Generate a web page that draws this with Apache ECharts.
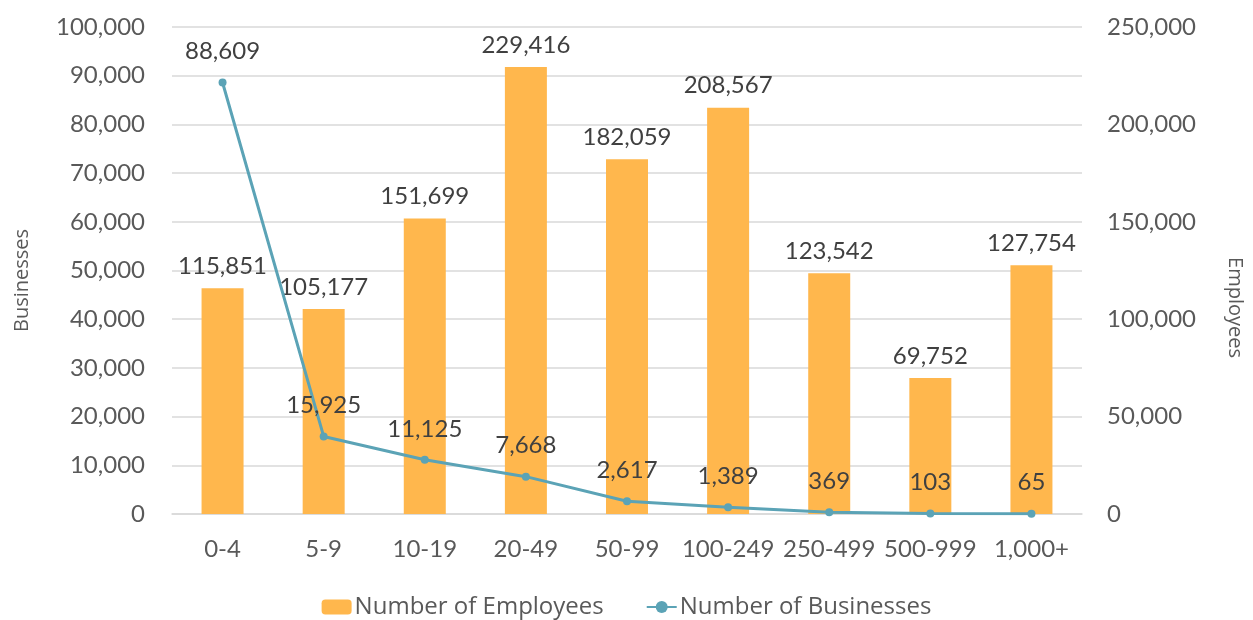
<!DOCTYPE html>
<html>
<head>
<meta charset="utf-8">
<script src="https://cdn.jsdelivr.net/npm/echarts@6/dist/echarts.min.js"></script>
<style>
  html, body { margin: 0; padding: 0; background: #fff; }
  #chart { width: 1253px; height: 620px; }
</style>
</head>
<body>
<div id="chart"></div>
<script>
const categories = ['0-4', '5-9', '10-19', '20-49', '50-99', '100-249', '250-499', '500-999', '1,000+'];
const employees = [115851, 105177, 151699, 229416, 182059, 208567, 123542, 69752, 127754];
const businesses = [88609, 15925, 11125, 7668, 2617, 1389, 369, 103, 65];

const FONT = 'Lato';
const fmt = v => v.toLocaleString('en-US');

const chart = echarts.init(document.getElementById('chart'));

const option = {
    animation: false,
    textStyle: { fontFamily: FONT },
    legend: {
        data: ['Number of Employees', 'Number of Businesses'],
        left: 'center',
        top: 590,
        itemWidth: 30,
        itemHeight: 15,
        itemGap: 42,
        textStyle: { fontFamily: 'Open Sans', fontSize: 24, color: '#595959', padding: [0, 0, 0, -2] }
    },
    grid: { left: 172, right: 171, top: 27, bottom: 106, containLabel: false, outerBoundsMode: 'none' },
    xAxis: {
        type: 'category',
        data: categories,
        axisLine: { lineStyle: { color: '#D9D9D9', width: 1.5 } },
        axisTick: { show: false },
        axisLabel: { color: '#595959', fontSize: 24, margin: 23, fontFamily: FONT, interval: 0 }
    },
    yAxis: [
        {
            type: 'value',
            min: 0, max: 100000, interval: 10000,
            name: 'Businesses',
            nameLocation: 'middle',
            nameGap: 140,
            // shift down a bit like the original
            nameTextStyle: { color: '#595959', fontSize: 20, fontFamily: 'Open Sans', padding: [0, 20, 0, 0] },
            axisLabel: { color: '#595959', fontSize: 24, margin: 27, formatter: fmt, fontFamily: FONT },
            axisLine: { show: false },
            axisTick: { show: false },
            splitLine: { lineStyle: { color: '#D9D9D9', width: 1.5 } }
        },
        {
            type: 'value',
            min: 0, max: 250000, interval: 50000,
            name: 'Employees',
            nameLocation: 'middle',
            nameGap: 143,
            nameRotate: -90,
            nameTextStyle: { color: '#595959', fontSize: 20, fontFamily: 'Open Sans', padding: [0, 0, 0, 74] },
            axisLabel: { color: '#595959', fontSize: 24, margin: 25, formatter: fmt, fontFamily: FONT },
            axisLine: { show: false },
            axisTick: { show: false },
            splitLine: { show: false }
        }
    ],
    series: [
        {
            name: 'Number of Employees',
            type: 'bar',
            yAxisIndex: 1,
            data: employees,
            barWidth: 42,
            itemStyle: { color: '#FFB74D' },
            label: {
                show: true,
                position: 'top',
                distance: 10,
                fontSize: 24,
                color: '#404040',
                fontFamily: FONT,
                formatter: p => fmt(p.value)
            },
            z: 1
        },
        {
            name: 'Number of Businesses',
            type: 'line',
            yAxisIndex: 0,
            data: businesses,
            symbol: 'circle',
            symbolSize: 8,
            lineStyle: { color: '#5BA3B6', width: 3 },
            itemStyle: { color: '#5BA3B6' },
            label: {
                show: true,
                position: 'top',
                distance: 15,
                fontSize: 24,
                color: '#404040',
                fontFamily: FONT,
                formatter: p => fmt(p.value)
            },
            z: 3
        }
    ]
};

chart.setOption(option);
window.addEventListener('resize', function () { chart.resize(); });
</script>
</body>
</html>
